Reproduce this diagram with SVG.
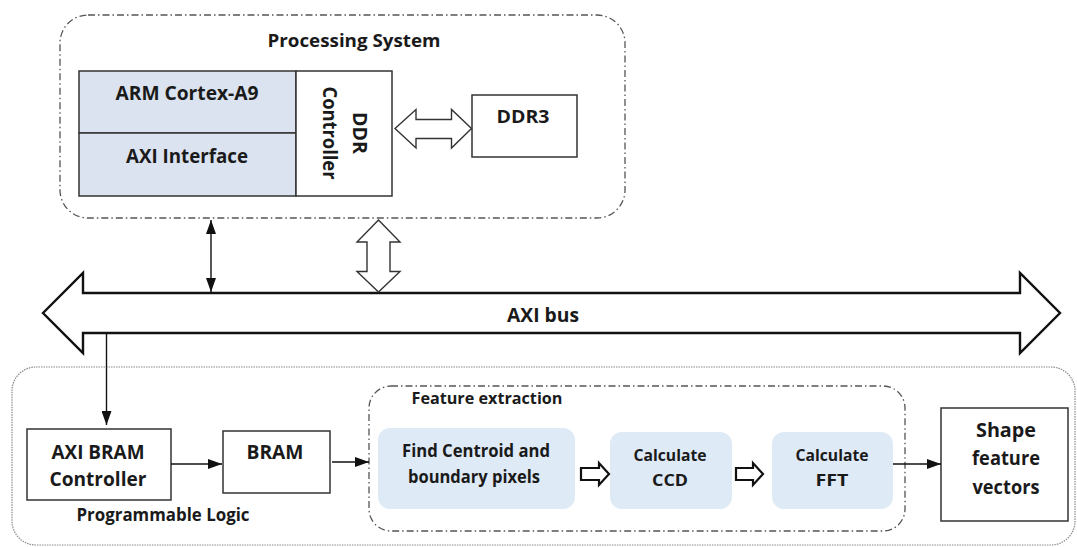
<svg xmlns="http://www.w3.org/2000/svg" width="1077" height="547" viewBox="0 0 1077 547">
<defs>
<style>
text{font-family:"Open Sans","Noto Sans","Liberation Sans",sans-serif;font-weight:700;fill:#1a1a1a;text-anchor:middle}
.box{fill:#fff;stroke:#333;stroke-width:1.5}
.blue{fill:#dae3ef;stroke:#333;stroke-width:1.5}
.fe{fill:#deeaf6;stroke:none}
.dashdot{fill:none;stroke:#555;stroke-width:1.3;stroke-dasharray:7 3 1.5 3}
.dotted{fill:none;stroke:#8a8a8a;stroke-width:1.2;stroke-dasharray:1.5 1}
.hollow{fill:#fff;stroke:#333;stroke-width:1.4;stroke-linejoin:miter}
.hollowk{fill:#fff;stroke:#111;stroke-width:2.2;stroke-linejoin:miter}
.line{fill:none;stroke:#111;stroke-width:1.4}
</style>
<marker id="ah" viewBox="0 0 14 10" refX="14" refY="5" markerWidth="14" markerHeight="10" markerUnits="userSpaceOnUse" orient="auto-start-reverse">
<path d="M0,0 L14,5 L0,10 Z" fill="#111"/>
</marker>
</defs>

<g id="processing-system">
<rect class="dashdot" x="60" y="15" width="565" height="203" rx="28"/>
<text x="354" y="47" font-size="18" textLength="173" lengthAdjust="spacingAndGlyphs">Processing System</text>
</g>

<g id="arm-cortex">
<rect class="blue" x="79" y="71" width="217" height="62"/>
<text x="187" y="100" font-size="19" textLength="143" lengthAdjust="spacingAndGlyphs">ARM Cortex-A9</text>
</g>

<g id="axi-interface">
<rect class="blue" x="79" y="133" width="217" height="63"/>
<text x="187" y="163" font-size="19" textLength="122" lengthAdjust="spacingAndGlyphs">AXI Interface</text>
</g>

<g id="ddr-controller">
<rect class="box" x="296" y="71" width="96" height="125"/>
<text transform="translate(353,133) rotate(90)" font-size="19" textLength="42" lengthAdjust="spacingAndGlyphs">DDR</text>
<text transform="translate(323,133) rotate(90)" font-size="19" textLength="93" lengthAdjust="spacingAndGlyphs">Controller</text>
</g>

<g id="ddr3">
<rect class="box" x="472" y="95" width="105" height="62"/>
<text x="523" y="123" font-size="18" textLength="53" lengthAdjust="spacingAndGlyphs">DDR3</text>
</g>

<g id="axi-bus">
<polygon points="43,313 83,273 83,293 1020,293 1020,273 1060,313 1020,353 1020,333 83,333 83,353" fill="#fff" stroke="#111" stroke-width="2.4"/>
<text x="543" y="322" font-size="19" textLength="72" lengthAdjust="spacingAndGlyphs">AXI bus</text>
</g>

<g id="programmable-logic">
<rect class="dotted" x="12" y="367" width="1063" height="178" rx="24"/>
<text x="163" y="521" font-size="17" textLength="173" lengthAdjust="spacingAndGlyphs">Programmable Logic</text>
</g>

<g id="axi-bram-controller">
<rect class="box" x="27" y="429" width="144" height="71"/>
<text x="98" y="459" font-size="19" textLength="93" lengthAdjust="spacingAndGlyphs">AXI BRAM</text>
<text x="98" y="486" font-size="19" textLength="97" lengthAdjust="spacingAndGlyphs">Controller</text>
</g>

<g id="bram">
<rect class="box" x="223" y="431" width="107" height="62"/>
<text x="275" y="459" font-size="19" textLength="57" lengthAdjust="spacingAndGlyphs">BRAM</text>
</g>

<g id="feature-extraction">
<rect class="dashdot" x="369" y="386" width="536" height="145" rx="22"/>
<text x="487" y="404" font-size="16.5" textLength="151" lengthAdjust="spacingAndGlyphs">Feature extraction</text>
</g>

<g id="find-centroid">
<rect class="fe" x="378" y="428" width="197" height="81" rx="12"/>
<text x="476" y="457" font-size="17" textLength="148" lengthAdjust="spacingAndGlyphs">Find Centroid and</text>
<text x="474" y="483" font-size="17" textLength="132" lengthAdjust="spacingAndGlyphs">boundary pixels</text>
</g>

<g id="calculate-ccd">
<rect class="fe" x="610" y="432" width="122" height="77" rx="12"/>
<text x="670" y="461" font-size="16.5" textLength="73" lengthAdjust="spacingAndGlyphs">Calculate</text>
<text x="670" y="486" font-size="16.5" textLength="36" lengthAdjust="spacingAndGlyphs">CCD</text>
</g>

<g id="calculate-fft">
<rect class="fe" x="772" y="432" width="121" height="77" rx="12"/>
<text x="832" y="461" font-size="16.5" textLength="73" lengthAdjust="spacingAndGlyphs">Calculate</text>
<text x="832" y="486" font-size="16.5" textLength="33" lengthAdjust="spacingAndGlyphs">FFT</text>
</g>

<g id="shape-feature-vectors">
<rect class="box" x="941" y="408" width="127" height="113"/>
<text x="1006" y="437" font-size="19.5" textLength="60" lengthAdjust="spacingAndGlyphs">Shape</text>
<text x="1006" y="465" font-size="19.5" textLength="68" lengthAdjust="spacingAndGlyphs">feature</text>
<text x="1006" y="494" font-size="19.5" textLength="67" lengthAdjust="spacingAndGlyphs">vectors</text>
</g>

<g id="connectors">
<polygon class="hollow" points="395,128.5 416,109.5 416,119.5 451.5,119.5 451.5,109.5 471.5,128.5 451.5,148 451.5,138.5 416,138.5 416,148"/>
<polygon class="hollow" points="378.5,220 400,242 390,242 390,271.5 400,271.5 378.5,292 357,271.5 367,271.5 367,242 357,242"/>
<line class="line" x1="211" y1="220" x2="211" y2="292" marker-start="url(#ah)" marker-end="url(#ah)"/>
<line class="line" x1="106.5" y1="333" x2="106.5" y2="425" marker-end="url(#ah)"/>
<line class="line" x1="171" y1="464" x2="222" y2="464" marker-end="url(#ah)"/>
<line class="line" x1="332" y1="462" x2="369" y2="462" marker-end="url(#ah)"/>
<line class="line" x1="893" y1="464" x2="941" y2="464" marker-end="url(#ah)"/>
<polygon class="hollowk" points="581,468 599,468 599,463 609,474 599,485 599,480 581,480"/>
<polygon class="hollowk" points="736,468 753,468 753,463 763,474 753,485 753,480 736,480"/>
</g>
</svg>
